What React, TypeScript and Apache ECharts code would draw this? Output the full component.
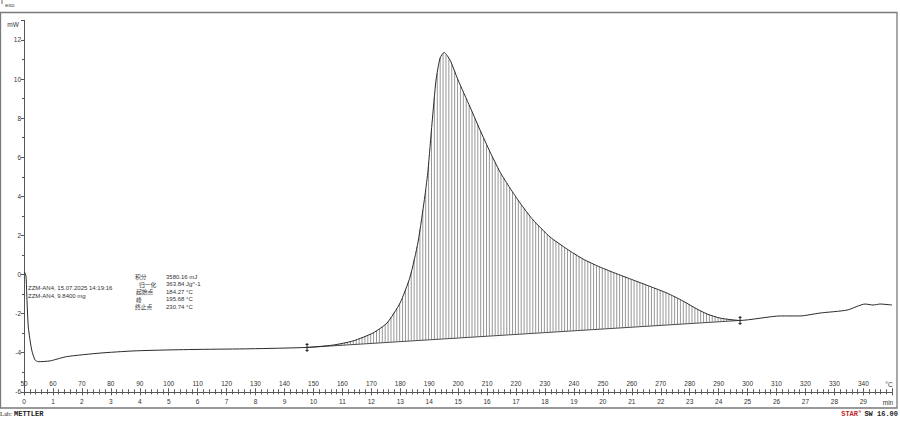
import React, { useEffect, useRef } from 'react';
import * as echarts from 'echarts';

// DSC curve (temperature °C, heat flow mW)
const TEMP = [
  50.17, 50.69, 50.93, 51.49, 52.66, 53.8, 54.94, 58.98, 64.75, 76.26, 87.66, 99.41,
  110.82, 128.09, 147.79, 156.77, 163.68, 170.59, 175.43, 179.92, 183.38, 186.14,
  188.56, 189.6, 190.98, 192.36, 193.75, 195.13, 197.2, 199.97, 204.11, 207.57,
  211.02, 214.48, 217.93, 221.39, 225.88, 231.75, 237.63, 243.16, 249.03, 254.91,
  260.44, 266.31, 272.19, 277.72, 282.55, 286.01, 290.5, 297.41, 311.23, 318.14,
  325.05, 334.38, 340.6, 343.37, 345.78, 349.93,
];
const HEAT_FLOW = [
  0.13, -0.08, -0.95, -2.69, -3.86, -4.37, -4.46, -4.42, -4.2, -4.02, -3.91, -3.86,
  -3.83, -3.8, -3.73, -3.61, -3.4, -2.99, -2.48, -1.46, -0.13, 1.66,
  4.07, 5.35, 7.75, 9.95, 11.07, 11.36, 10.97, 9.95, 8.57, 7.39,
  6.27, 5.24, 4.42, 3.66, 2.79, 1.92, 1.3, 0.79, 0.38, 0.03,
  -0.28, -0.61, -0.95, -1.36, -1.77, -2.02, -2.23, -2.35, -2.12, -2.12,
  -1.97, -1.82, -1.51, -1.56, -1.51, -1.56,
];

// integration limits (baseline end points)
const LIMIT_TEMP = [147.79, 297.41];
const LIMIT_FLOW = [-3.73, -2.35];

const SAMPLE_INFO = ['ZZM-AN4, 15.07.2025 14:19:16', 'ZZM-AN4, 9.8400 mg'];
const RESULT_LABELS = ['积分', '归一化', '起始点', '峰', '终止点'];
const RESULT_INDENT = [0, 4, 1, 1, 0];
const RESULT_VALUES = ['3580.16 mJ', '363.84 Jg^-1', '184.27 °C', '195.68 °C', '230.74 °C'];

const SANS = '"Liberation Sans", Arial, sans-serif';
const MONO = '"Liberation Mono", "DejaVu Sans Mono", monospace';
const AXIS_COLOR = '#555';
const LABEL_COLOR = '#333';

export default function App() {
  const ref = useRef<HTMLDivElement>(null);

  useEffect(() => {
    if (!ref.current) return;
    const chart = echarts.init(ref.current, undefined, { renderer: 'svg' });

    const curve = TEMP.map((t, i) => [t, HEAT_FLOW[i]]);
    const limits = LIMIT_TEMP.map((t, i) => [t, LIMIT_FLOW[i]]);

    const graphics: any[] = [
      {
        type: 'rect',
        silent: true,
        shape: { x: 0.5, y: 12.5, width: 896.5, height: 395.5 },
        style: { fill: 'none', stroke: '#7a7a7a', lineWidth: 1.3 },
      },
      { type: 'line', shape: { x1: 2, y1: 0, x2: 2, y2: 4 }, style: { stroke: '#666', lineWidth: 1 } },
      {
        type: 'text',
        style: { text: 'exo', x: 5, y: 5, fontSize: 6, fontFamily: SANS, fill: '#444', textVerticalAlign: 'middle' },
      },
      {
        type: 'text',
        style: { text: 'mW', x: 13, y: 24.5, fontSize: 6.5, fontFamily: SANS, fill: LABEL_COLOR, textAlign: 'center', textVerticalAlign: 'middle' },
      },
      {
        type: 'text',
        style: { text: '°C', x: 889, y: 384.5, fontSize: 6.5, fontFamily: SANS, fill: LABEL_COLOR, textAlign: 'center', textVerticalAlign: 'middle' },
      },
      {
        type: 'text',
        style: { text: 'min', x: 888, y: 402, fontSize: 6.5, fontFamily: SANS, fill: LABEL_COLOR, textAlign: 'center', textVerticalAlign: 'middle' },
      },
      {
        type: 'text',
        style: { text: 'Lab:', x: 0, y: 413.5, fontSize: 6.5, fontFamily: '"Liberation Serif", "DejaVu Serif", serif', fill: '#222', textVerticalAlign: 'middle' },
      },
      {
        type: 'text',
        style: { text: 'METTLER', x: 14, y: 413.5, fontSize: 7, fontWeight: 'bold', fontFamily: MONO, fill: '#222', textVerticalAlign: 'middle' },
      },
      {
        type: 'text',
        style: { text: 'STAR', x: 858, y: 413.5, fontSize: 7, fontWeight: 'bold', fontFamily: MONO, fill: '#c0282a', textAlign: 'right', textVerticalAlign: 'middle' },
      },
      {
        type: 'text',
        style: { text: 'e', x: 858.5, y: 411, fontSize: 4.5, fontFamily: MONO, fill: '#c0282a', textVerticalAlign: 'middle' },
      },
      {
        type: 'text',
        style: { text: 'SW 16.00', x: 898, y: 413.5, fontSize: 7, fontWeight: 'bold', fontFamily: MONO, fill: '#222', textAlign: 'right', textVerticalAlign: 'middle' },
      },
    ];

    SAMPLE_INFO.forEach((s, i) => {
      graphics.push({
        type: 'text',
        style: { text: s, x: 28, y: 287.5 + i * 8, fontSize: 6, fontFamily: SANS, fill: '#333', textVerticalAlign: 'middle' },
      });
    });
    RESULT_LABELS.forEach((s, i) => {
      graphics.push({
        type: 'text',
        style: { text: s, x: 135 + RESULT_INDENT[i], y: 276.5 + i * 7.5, fontSize: 5.8, fontFamily: '"Noto Sans CJK SC", sans-serif', fill: '#333', textVerticalAlign: 'middle' },
      });
      graphics.push({
        type: 'text',
        style: { text: RESULT_VALUES[i], x: 166, y: 276.5 + i * 7.5, fontSize: 6, fontFamily: SANS, fill: '#333', textVerticalAlign: 'middle' },
      });
    });

    const option: any = {
      animation: false,
      grid: { left: 24, right: 7.7, top: 20.4, bottom: 29.2, containLabel: false },
      xAxis: [
        {
          type: 'value',
          position: 'bottom',
          min: 50,
          max: 350,
          interval: 10,
          axisLine: { show: true, onZero: false, lineStyle: { color: AXIS_COLOR, width: 1 } },
          axisTick: { show: true, inside: true, length: 3.5, lineStyle: { color: AXIS_COLOR } },
          minorTick: { show: true, splitNumber: 5, length: 2.5, lineStyle: { color: AXIS_COLOR } },
          axisLabel: {
            inside: true,
            margin: 4.5,
            fontSize: 6.5,
            fontFamily: SANS,
            color: LABEL_COLOR,
            formatter: (v: number) => (v === 350 ? '' : String(v)),
          },
          splitLine: { show: false },
        },
        {
          type: 'value',
          position: 'bottom',
          offset: 0,
          min: 0,
          max: 30,
          interval: 1,
          axisLine: { show: true, onZero: false, lineStyle: { color: AXIS_COLOR, width: 1 } },
          axisTick: { show: true, inside: false, length: 3.5, lineStyle: { color: AXIS_COLOR } },
          minorTick: { show: true, splitNumber: 5, length: 2.5, lineStyle: { color: AXIS_COLOR } },
          axisLabel: {
            margin: 6,
            fontSize: 6.5,
            fontFamily: SANS,
            color: LABEL_COLOR,
            formatter: (v: number) => (v === 30 ? '' : String(v)),
          },
          splitLine: { show: false },
        },
      ],
      yAxis: {
        type: 'value',
        min: -6,
        max: 13,
        interval: 2,
        axisLine: { show: true, onZero: false, lineStyle: { color: AXIS_COLOR, width: 1 } },
        axisTick: { show: true, length: 3, lineStyle: { color: AXIS_COLOR } },
        minorTick: { show: true, splitNumber: 2, length: 2, lineStyle: { color: AXIS_COLOR } },
        axisLabel: {
          margin: 3,
          fontSize: 6.5,
          fontFamily: SANS,
          color: LABEL_COLOR,
          formatter: (v: number) => (v === 13 ? '' : String(v)),
        },
        splitLine: { show: false },
      },
      series: [
        {
          type: 'custom',
          name: 'hatch',
          xAxisIndex: 0,
          yAxisIndex: 0,
          silent: true,
          data: [limits[0]],
          renderItem: (_params: any, api: any) => {
            const pts = curve.map((p) => api.coord(p));
            const b0 = api.coord(limits[0]);
            const b1 = api.coord(limits[1]);
            const step = api.size([1, 0])[0];
            const children: any[] = [];
            children.push({
              type: 'line',
              shape: { x1: b0[0], y1: b0[1], x2: b1[0], y2: b1[1] },
              style: { stroke: '#333', lineWidth: 0.9 },
            });
            for (let x = b0[0] + step; x < b1[0] - 0.5; x += step) {
              let yc: number | null = null;
              for (let i = 0; i < pts.length - 1; i++) {
                if (pts[i][0] <= x && pts[i + 1][0] >= x) {
                  const f = (x - pts[i][0]) / (pts[i + 1][0] - pts[i][0]);
                  yc = pts[i][1] + f * (pts[i + 1][1] - pts[i][1]);
                  break;
                }
              }
              if (yc === null) continue;
              const yb = b0[1] + ((x - b0[0]) / (b1[0] - b0[0])) * (b1[1] - b0[1]);
              children.push({
                type: 'line',
                shape: { x1: x, y1: yb, x2: x, y2: yc },
                style: { stroke: '#6a6a6a', lineWidth: 0.7 },
              });
            }
            return { type: 'group', children };
          },
          z: 1,
        },
        {
          type: 'line',
          name: 'DSC',
          xAxisIndex: 0,
          yAxisIndex: 0,
          data: curve,
          showSymbol: false,
          symbol: 'none',
          smooth: 0.2,
          lineStyle: { color: '#2a2a2a', width: 1 },
          z: 3,
        },
        {
          type: 'custom',
          name: 'limits',
          xAxisIndex: 0,
          yAxisIndex: 0,
          silent: true,
          data: limits,
          renderItem: (_params: any, api: any) => {
            const p = api.coord([api.value(0), api.value(1)]);
            const s = { stroke: '#222', lineWidth: 1 };
            return {
              type: 'group',
              children: [
                { type: 'line', shape: { x1: p[0], y1: p[1] - 4.5, x2: p[0], y2: p[1] + 4.5 }, style: s },
                { type: 'line', shape: { x1: p[0] - 1.5, y1: p[1] - 3, x2: p[0] + 1.5, y2: p[1] - 3 }, style: s },
                { type: 'line', shape: { x1: p[0] - 1.5, y1: p[1] + 3, x2: p[0] + 1.5, y2: p[1] + 3 }, style: s },
              ],
            };
          },
          z: 4,
        },
      ],
      graphic: graphics,
    };

    chart.setOption(option);
    return () => chart.dispose();
  }, []);

  return (
    <div
      ref={ref}
      style={{ position: 'absolute', left: 0, top: 0, width: 900, height: 421, background: '#fff' }}
    />
  );
}
